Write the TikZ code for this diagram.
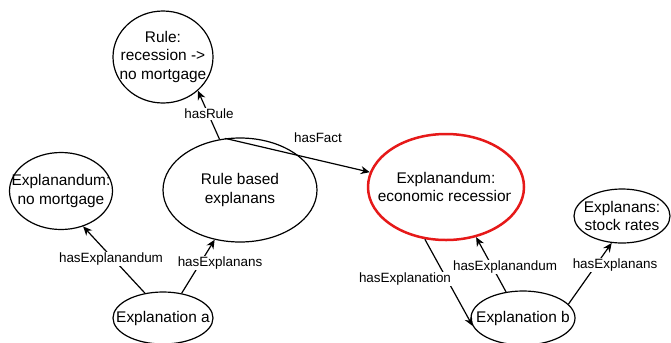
\documentclass[tikz,border=0pt]{standalone}
\usepackage{fontspec}
\setmainfont{Liberation Sans}
\usetikzlibrary{arrows.meta,shapes.geometric}
\definecolor{alertred}{RGB}{230,25,25}
\begin{document}
\begin{tikzpicture}[x=1bp,y=-1bp,
  ell/.style={ellipse, draw=black, line width=1.2bp, inner sep=0pt},
  nodetext/.style={align=center, inner sep=0pt, font=\fontsize{15.5}{18.5}\selectfont},
  rel/.style={draw=black, line width=1.2bp, -{Stealth[length=9bp,width=8bp]}},
  rellabel/.style={fill=white, inner sep=1bp, font=\fontsize{13.5}{15}\selectfont}]
\clip (0,0) rectangle (671,342);
\fill[white] (0,0) rectangle (671,342);

% concepts
\node[ell, minimum width=100bp, minimum height=92bp] (rule) at (163,57) {};
\node[nodetext] (ruletext) at (rule) {Rule:\\recession ->\\no mortgage};

\node[ell, minimum width=154bp, minimum height=104bp] (rulebased) at (240,190) {};
\node[nodetext] (rulebasedtext) at (rulebased) {Rule based\\explanans};

\node[ell, minimum width=103bp, minimum height=77bp] (nomort) at (61,191) {};
\node[nodetext] (nomorttext) at (nomort) {Explanandum:\\no mortgage};

\node[ell, minimum width=100bp, minimum height=52bp] (expa) at (163,318) {};
\node[nodetext] (expatext) at (expa) {Explanation a};

\node[ell, draw=alertred, line width=2.5bp, minimum width=156bp, minimum height=106bp] (recession) at (446,187) {};
\node[nodetext] (rectext) at (recession) {Explanandum:\\economic recession};
% text box cut off at its right edge
\fill[white] ([xshift=-3bp]rectext.south east) rectangle ([xshift=1bp]rectext.east);

\node[ell, minimum width=96bp, minimum height=54bp] (stock) at (622,216) {};
\node[nodetext] (stocktext) at (stock) {Explanans:\\stock rates};

\node[ell, minimum width=104bp, minimum height=54bp] (expb) at (523,318) {};
\node[nodetext] (expbtext) at (expb) {Explanation b};

% relations
\draw[rel] (rulebased.112) -- (rule.-44);
\draw[rel] (rulebased.106) -- (recession.169);
\draw[rel] (expa.126) -- (nomort.-58);
\draw[rel] (expa.53) -- (rulebased.-117);
\draw[rel] (recession.-112) -- (expb.-171);
\draw[rel] (expb.123) -- (recession.-59);
\draw[rel] (expb.17) -- (stock.-111);

% relation labels
\node[rellabel] (lrule) at (209,114) {hasRule};
\node[rellabel] (lfact) at (318,138) {hasFact};
\node[rellabel] (lexpla) at (111,259) {hasExplanandum};
\node[rellabel] (lexpa) at (220,263) {hasExplanans};
\node[rellabel] (lexpl) at (405,279) {hasExplanation};
\node[rellabel] (lexplb) at (505,267) {hasExplanandum};
\node[rellabel] (lexpb) at (615,265) {hasExplanans};
\end{tikzpicture}
\end{document}
